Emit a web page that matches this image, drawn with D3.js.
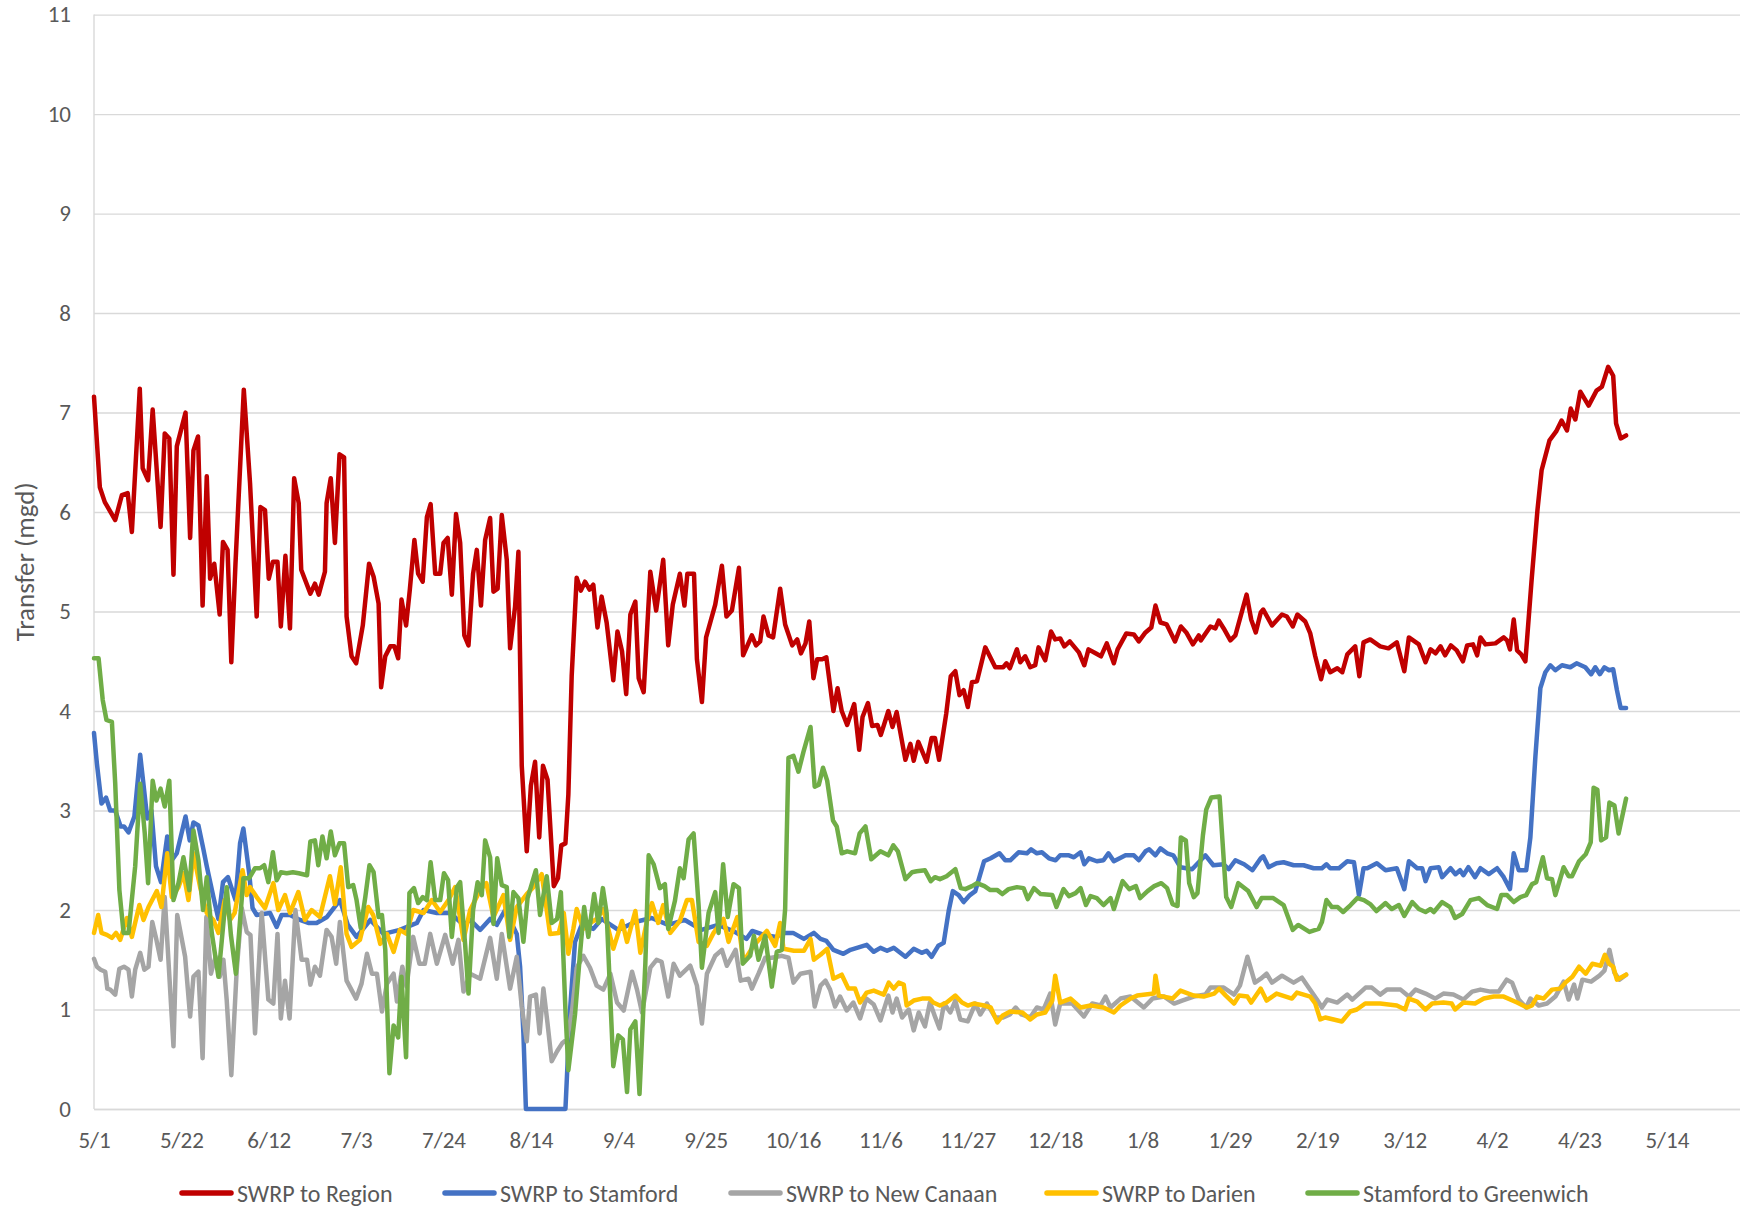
<!DOCTYPE html>
<html>
<head>
<meta charset="utf-8">
<script src="https://cdn.jsdelivr.net/npm/d3@7"></script>
<style>
  html, body { margin: 0; padding: 0; background: #ffffff; }
  svg { display: block; }
  text { font-family: Calibri, Carlito, Lato, "Open Sans", sans-serif; }
</style>
</head>
<body>
<svg id="chart" width="1740" height="1209"></svg>
<script>
// ---------------- DATA ----------------
// Each series: [days after 2018-05-01, transfer in mgd]
const seriesNames = ["SWRP to Region", "SWRP to Stamford", "SWRP to New Canaan", "SWRP to Darien", "Stamford to Greenwich"];

const xTickDates = ["2018-05-01","2018-05-22","2018-06-12","2018-07-03","2018-07-24","2018-08-14","2018-09-04","2018-09-25","2018-10-16","2018-11-06","2018-11-27","2018-12-18","2019-01-08","2019-01-29","2019-02-19","2019-03-12","2019-04-02","2019-04-23","2019-05-14"];
const yTickValues = [0,1,2,3,4,5,6,7,8,9,10,11];

const swrpToRegion = [[0,7.16],[1.4,6.25],[2.6,6.10],[5.1,5.92],[6.7,6.17],[8.1,6.19],[9.1,5.80],[11.0,7.24],[11.7,6.44],[13.0,6.32],[14.1,7.03],[16.0,5.85],[17.0,6.79],[18.1,6.74],[19.1,5.37],[19.9,6.66],[22.0,7.00],[23.1,5.74],[23.9,6.62],[25.0,6.76],[26.1,5.06],[27.1,6.36],[27.9,5.33],[28.9,5.48],[30.2,4.97],[31.0,5.70],[32.1,5.62],[33.0,4.49],[34.0,5.48],[36.0,7.23],[37.5,6.29],[39.1,4.95],[40.0,6.05],[41.1,6.02],[42.0,5.33],[43.0,5.50],[44.1,5.50],[44.9,4.85],[46.0,5.56],[47.1,4.83],[48.1,6.34],[49.2,6.09],[49.8,5.42],[52.0,5.18],[53.1,5.28],[54.0,5.17],[55.5,5.40],[55.9,6.09],[56.9,6.34],[57.9,5.69],[59.0,6.58],[60.1,6.55],[60.7,4.95],[61.9,4.55],[63.0,4.48],[64.6,4.86],[66.1,5.48],[67.2,5.35],[68.4,5.08],[69.0,4.24],[70.0,4.55],[71.2,4.65],[72.2,4.65],[73.1,4.53],[73.9,5.12],[75.0,4.86],[75.9,5.22],[77.0,5.72],[77.9,5.38],[79.0,5.30],[80.0,5.95],[80.9,6.08],[82.0,5.38],[83.2,5.38],[84.0,5.69],[85.0,5.74],[86.0,5.17],[87.0,5.98],[88.0,5.69],[89.0,4.76],[90.0,4.66],[91.1,5.38],[92.0,5.62],[93.0,5.06],[94.0,5.72],[95.2,5.94],[96.0,5.20],[97.0,5.23],[98.0,5.97],[99.2,5.52],[100.0,4.63],[101.2,5.05],[102.0,5.60],[102.8,3.45],[104.0,2.59],[105.0,3.25],[106.0,3.49],[107.0,2.73],[107.9,3.45],[109.0,3.31],[110.5,2.24],[111.5,2.32],[112.3,2.65],[113.3,2.67],[114.0,3.16],[114.8,4.35],[116.0,5.34],[117.0,5.21],[118.0,5.30],[119.1,5.22],[120.0,5.27],[121.0,4.84],[122.0,5.15],[123.2,4.89],[124.8,4.31],[125.8,4.80],[126.9,4.60],[127.9,4.17],[128.9,4.97],[130.1,5.10],[130.9,4.33],[132.1,4.19],[133.7,5.40],[135.1,5.01],[136.8,5.52],[138.0,4.66],[139.1,5.07],[140.8,5.38],[141.9,5.06],[142.6,5.38],[144.2,5.38],[144.9,4.52],[146.1,4.09],[147.1,4.74],[149.3,5.07],[150.9,5.46],[152.0,4.95],[153.3,5.01],[155.0,5.44],[156.0,4.56],[158.1,4.76],[159.1,4.66],[160.1,4.70],[160.9,4.95],[162.1,4.76],[163.2,4.74],[164.9,5.23],[166.1,4.87],[167.8,4.66],[169.0,4.72],[169.9,4.58],[171.0,4.68],[171.9,4.90],[172.9,4.33],[173.8,4.52],[175.0,4.52],[176.0,4.54],[177.7,4.00],[178.7,4.23],[179.7,4.00],[181.0,3.86],[182.7,4.07],[183.9,3.61],[184.7,3.94],[186.0,4.08],[187.0,3.85],[188.3,3.86],[189.1,3.76],[190.9,4.00],[191.9,3.84],[192.9,3.99],[195.0,3.51],[196.2,3.67],[197.0,3.50],[198.1,3.69],[200.1,3.49],[201.3,3.73],[202.1,3.73],[203.1,3.51],[204.8,3.97],[205.9,4.35],[207.0,4.40],[208.0,4.16],[209.0,4.21],[210.0,4.04],[211.0,4.29],[212.2,4.30],[214.2,4.64],[216.6,4.44],[218.5,4.44],[219.3,4.48],[220.1,4.43],[221.8,4.62],[222.6,4.49],[223.8,4.55],[225.0,4.44],[226.2,4.46],[227.0,4.64],[228.6,4.51],[230.0,4.80],[231.0,4.72],[232.2,4.73],[233.2,4.65],[234.5,4.70],[236.7,4.59],[238.0,4.46],[239.0,4.62],[240.7,4.58],[242.0,4.55],[243.4,4.68],[245.1,4.48],[246.0,4.62],[248.1,4.78],[249.9,4.77],[251.1,4.70],[252.7,4.79],[254.1,4.84],[255.1,5.06],[256.3,4.89],[257.8,4.87],[259.8,4.70],[261.2,4.85],[262.5,4.79],[264.1,4.67],[265.5,4.76],[266.0,4.71],[268.3,4.85],[269.5,4.83],[270.3,4.91],[271.5,4.83],[273.1,4.71],[274.3,4.76],[277.0,5.17],[278.1,4.92],[279.2,4.79],[280.4,4.99],[281.0,5.02],[283.1,4.86],[285.5,4.97],[286.7,4.95],[288.1,4.85],[289.2,4.97],[291.1,4.90],[292.3,4.78],[293.5,4.55],[294.9,4.32],[295.9,4.50],[297.1,4.39],[298.8,4.43],[300.0,4.39],[301.2,4.57],[303.1,4.65],[304.1,4.35],[305.1,4.69],[306.7,4.72],[309.1,4.65],[311.1,4.63],[313.1,4.69],[314.9,4.40],[316.0,4.74],[318.4,4.67],[320.0,4.49],[321.2,4.62],[322.4,4.58],[323.6,4.65],[324.7,4.56],[326.1,4.66],[327.5,4.61],[329.0,4.50],[330.0,4.66],[331.4,4.67],[332.4,4.56],[333.2,4.74],[334.4,4.67],[336.8,4.68],[338.8,4.74],[339.6,4.71],[340.3,4.62],[341.2,4.92],[342.0,4.61],[343.0,4.57],[344.0,4.50],[345.5,5.32],[346.9,6.02],[347.9,6.42],[349.8,6.72],[351.4,6.81],[352.7,6.92],[354.0,6.82],[354.9,7.04],[356.0,6.93],[357.2,7.21],[359.2,7.07],[361.1,7.22],[362.4,7.26],[363.9,7.46],[365.1,7.37],[365.8,6.89],[366.9,6.74],[368.2,6.77]];

const swrpToStamford = [[0,3.78],[0.7,3.47],[1.8,3.07],[2.9,3.13],[3.9,3.00],[5.1,3.00],[6.4,2.84],[7.2,2.84],[8.3,2.78],[9.7,2.94],[11.1,3.56],[12.8,2.92],[13.8,3.00],[14.9,2.44],[16.1,2.28],[17.6,2.74],[18.7,2.50],[19.9,2.57],[22.0,2.94],[23.0,2.70],[23.9,2.88],[25.1,2.85],[26.2,2.63],[27.1,2.44],[28.7,2.13],[29.9,1.91],[31.0,2.28],[32.2,2.33],[34.0,2.10],[35.1,2.67],[35.9,2.82],[37.3,2.37],[38.1,2.02],[39.1,1.95],[42.3,1.97],[43.9,1.83],[45.1,1.95],[47.1,1.95],[49.5,1.90],[51.5,1.87],[53.5,1.87],[56.0,1.93],[59.1,2.10],[61.0,1.85],[63.1,1.73],[66.4,1.90],[69.6,1.76],[73.5,1.80],[77.6,1.87],[79.2,2.00],[82.4,1.97],[85.6,1.97],[88.8,1.85],[90.4,1.90],[92.8,1.80],[95.2,1.91],[96.8,1.85],[98.8,2.00],[101.6,1.76],[102.4,1.43],[103.2,0.76],[103.8,0],[113.3,0],[114.4,0.99],[115.6,1.68],[117.2,1.85],[120.0,1.81],[122.0,1.91],[126.0,1.80],[130.0,1.88],[134.0,1.92],[138.0,1.85],[142.0,1.90],[146.0,1.80],[150.0,1.85],[154.0,1.78],[156.8,1.71],[158.2,1.79],[161.0,1.75],[164.0,1.73],[165.7,1.77],[168.0,1.77],[170.6,1.71],[173.0,1.77],[174.6,1.71],[176.0,1.69],[177.7,1.60],[180.1,1.56],[181.8,1.60],[185.7,1.65],[187.4,1.58],[189.0,1.62],[190.6,1.59],[192.2,1.62],[195.0,1.53],[197.0,1.61],[198.9,1.57],[200.1,1.59],[201.3,1.53],[202.9,1.64],[204.2,1.67],[205.4,1.99],[206.4,2.19],[207.8,2.15],[209.0,2.08],[210.5,2.15],[211.8,2.19],[213.9,2.49],[215.5,2.52],[217.6,2.57],[219.0,2.50],[220.2,2.50],[222.2,2.58],[224.2,2.57],[225.2,2.61],[226.6,2.57],[227.8,2.58],[229.5,2.52],[231.1,2.50],[232.2,2.55],[234.3,2.55],[235.5,2.53],[237.1,2.58],[238.0,2.46],[239.1,2.52],[241.0,2.49],[242.6,2.50],[243.8,2.57],[245.1,2.49],[247.9,2.55],[249.9,2.55],[251.1,2.50],[252.7,2.59],[253.6,2.61],[255.1,2.55],[256.3,2.62],[257.9,2.57],[259.4,2.55],[261.1,2.43],[263.9,2.41],[265.5,2.48],[267.1,2.55],[269.0,2.45],[271.5,2.46],[272.7,2.41],[274.3,2.50],[276.4,2.46],[278.4,2.40],[280.4,2.52],[281.0,2.54],[282.3,2.43],[284.2,2.47],[285.9,2.48],[288.3,2.45],[290.7,2.45],[293.1,2.42],[295.1,2.42],[296.2,2.46],[297.1,2.42],[299.2,2.42],[301.2,2.49],[302.8,2.48],[304.0,2.15],[305.1,2.42],[306.0,2.42],[308.3,2.47],[310.4,2.40],[313.1,2.42],[314.9,2.21],[316.0,2.49],[318.0,2.42],[319.2,2.42],[320.0,2.29],[321.2,2.42],[323.2,2.43],[324.0,2.33],[326.0,2.42],[327.2,2.36],[328.3,2.40],[329.1,2.35],[330.3,2.43],[331.9,2.33],[333.2,2.42],[335.2,2.36],[337.2,2.42],[338.8,2.33],[340.3,2.21],[341.2,2.57],[342.4,2.40],[344.2,2.40],[345.2,2.73],[346.4,3.54],[347.6,4.23],[348.8,4.39],[350.0,4.46],[351.2,4.41],[352.8,4.46],[354.8,4.44],[356.3,4.48],[358.4,4.44],[359.8,4.37],[360.8,4.44],[361.9,4.37],[363.0,4.44],[364.1,4.41],[365.1,4.42],[366.0,4.21],[366.9,4.03],[368.2,4.03]];

const swrpToNewCanaan = [[0,1.51],[0.7,1.43],[1.6,1.40],[2.7,1.38],[3.2,1.21],[3.9,1.20],[5.1,1.15],[6.1,1.41],[7.2,1.43],[8.3,1.40],[9.1,1.13],[9.9,1.40],[11.1,1.57],[12.1,1.40],[13.1,1.43],[14.0,1.88],[15.0,1.70],[16.0,1.50],[17.0,2.13],[19.1,0.63],[20.0,1.95],[21.9,1.53],[23.1,0.93],[23.9,1.33],[25.1,1.38],[26.1,0.51],[27.0,1.93],[28.1,1.36],[29.2,1.53],[30.2,1.33],[31.1,1.50],[31.9,1.09],[33.0,0.34],[34.3,1.40],[35.5,2.02],[36.7,1.78],[37.6,1.75],[38.7,0.76],[40.3,1.97],[41.9,1.10],[43.1,1.06],[44.1,1.76],[44.9,0.91],[45.9,1.29],[47.0,0.91],[48.4,2.00],[49.9,1.50],[51.2,1.50],[52.0,1.25],[53.1,1.43],[54.3,1.34],[55.9,1.80],[57.1,1.73],[58.2,1.46],[59.1,1.88],[60.7,1.29],[63.0,1.11],[64.3,1.26],[65.6,1.56],[66.8,1.36],[68.0,1.36],[69.2,0.98],[70.4,1.26],[72.0,1.36],[72.8,1.08],[74.1,1.43],[75.1,1.23],[76.7,1.73],[78.2,1.46],[79.5,1.46],[80.8,1.76],[82.4,1.46],[84.4,1.75],[86.2,1.46],[87.6,1.70],[88.8,1.18],[90.4,1.36],[92.8,1.31],[95.2,1.72],[96.8,1.31],[98.0,1.76],[100.0,1.21],[101.6,1.53],[102.8,1.03],[104.0,0.68],[104.8,1.13],[106.2,1.15],[107.1,0.76],[108.0,1.21],[109.0,0.86],[110.0,0.48],[111.3,0.58],[112.5,0.66],[113.7,0.70],[114.9,0.99],[116.0,1.42],[117.6,1.54],[119.2,1.42],[120.8,1.24],[122.4,1.20],[124.1,1.36],[125.7,1.07],[127.3,0.99],[129.3,1.38],[130.5,1.20],[131.7,0.97],[133.7,1.42],[135.2,1.50],[136.4,1.48],[138.0,1.13],[139.3,1.46],[140.8,1.34],[143.3,1.44],[144.9,1.24],[146.1,0.86],[147.3,1.36],[149.3,1.54],[150.9,1.60],[152.1,1.44],[154.2,1.60],[155.4,1.29],[157.3,1.31],[158.1,1.21],[159.7,1.36],[161.3,1.52],[162.9,1.52],[165.3,1.54],[166.9,1.52],[168.1,1.27],[169.8,1.36],[172.2,1.38],[173.2,1.03],[174.6,1.24],[175.8,1.29],[176.9,1.20],[178.1,1.03],[179.3,1.13],[180.9,0.99],[182.5,1.07],[184.1,0.91],[185.6,1.11],[187.4,1.05],[189.0,0.89],[190.9,1.14],[191.9,0.97],[192.9,1.11],[194.2,0.92],[195.8,1.00],[197.0,0.79],[198.2,0.97],[199.7,0.83],[200.9,1.07],[202.1,0.93],[203.2,0.81],[204.3,1.06],[205.8,0.97],[207.0,1.09],[208.2,0.90],[210.0,0.88],[211.8,1.06],[213.0,0.95],[214.6,1.06],[216.6,0.92],[218.5,0.92],[220.1,0.95],[221.5,1.02],[222.9,0.95],[225.0,0.92],[226.6,1.02],[228.2,1.00],[229.8,1.16],[231.0,0.85],[232.2,1.06],[235.1,1.06],[237.9,0.93],[239.9,1.06],[241.9,1.04],[243.1,1.13],[244.3,1.02],[246.7,1.11],[249.1,1.13],[252.3,1.02],[254.4,1.11],[257.2,1.13],[259.6,1.06],[261.5,1.09],[264.3,1.13],[267.1,1.15],[268.3,1.22],[271.5,1.22],[274.0,1.15],[275.4,1.24],[277.2,1.53],[279.0,1.27],[280.4,1.31],[281.8,1.36],[283.1,1.27],[285.5,1.34],[288.3,1.27],[290.3,1.32],[291.9,1.22],[293.9,1.10],[295.1,1.02],[296.4,1.10],[298.8,1.07],[301.2,1.15],[302.4,1.10],[305.6,1.22],[307.1,1.22],[309.1,1.15],[310.7,1.20],[314.0,1.20],[316.0,1.13],[317.6,1.20],[320.0,1.16],[322.3,1.11],[324.3,1.16],[326.7,1.15],[329.1,1.10],[331.2,1.18],[333.2,1.20],[335.6,1.18],[337.6,1.18],[339.5,1.30],[340.8,1.27],[342.4,1.10],[344.2,1.02],[345.2,1.11],[347.2,1.04],[349.2,1.06],[351.2,1.13],[353.2,1.28],[354.4,1.10],[355.7,1.25],[356.5,1.11],[357.7,1.30],[359.8,1.28],[361.8,1.34],[363.0,1.39],[364.2,1.60],[365.4,1.37],[366.6,1.30],[368.2,1.35]];

const swrpToDarien = [[0,1.77],[1.0,1.95],[1.8,1.77],[3.1,1.75],[4.3,1.72],[5.3,1.77],[6.3,1.70],[7.9,1.92],[9.1,1.73],[10.9,2.05],[11.9,1.90],[13.1,2.03],[15.1,2.19],[16.2,2.03],[17.6,2.57],[18.7,2.13],[20.3,2.23],[21.5,2.37],[22.7,2.10],[23.9,2.57],[25.5,2.23],[27.1,1.97],[28.7,1.90],[29.9,1.77],[31.4,2.10],[32.7,1.90],[33.8,1.97],[35.7,2.40],[36.7,2.15],[37.5,2.23],[39.1,2.13],[41.1,2.02],[43.1,2.27],[44.3,2.00],[45.9,2.15],[47.1,1.97],[49.1,2.18],[50.7,1.90],[52.3,2.00],[54.3,1.93],[56.7,2.34],[57.9,2.06],[59.3,2.43],[60.7,1.76],[61.9,1.63],[63.9,1.70],[65.9,2.03],[67.1,1.95],[68.8,1.66],[70.4,1.76],[72.0,1.58],[73.5,1.80],[75.1,1.76],[76.7,2.00],[79.2,1.97],[81.2,2.10],[83.2,1.98],[85.2,2.10],[86.8,2.23],[88.8,1.70],[90.4,2.00],[92.8,2.20],[94.3,2.27],[96.0,1.93],[98.4,2.15],[100.0,1.70],[101.6,2.03],[104.0,2.16],[105.6,2.23],[107.6,2.36],[109.6,1.76],[111.7,1.77],[112.9,1.97],[114.0,1.56],[115.2,1.81],[116.0,2.01],[117.6,1.81],[119.2,1.87],[120.8,1.91],[122.4,2.01],[124.8,1.61],[126.9,1.89],[128.1,1.68],[130.1,1.99],[131.3,1.57],[132.9,1.89],[134.1,2.07],[135.6,1.87],[136.8,2.05],[138.5,1.77],[140.8,1.89],[142.5,2.10],[143.7,2.10],[145.3,1.68],[147.3,1.64],[148.9,1.77],[151.3,1.91],[152.5,1.68],[154.6,1.93],[156.1,1.48],[158.5,1.64],[161.7,1.79],[163.7,1.64],[164.9,1.87],[165.7,1.61],[168.2,1.59],[170.6,1.59],[172.2,1.71],[173.0,1.50],[174.6,1.55],[176.2,1.61],[177.7,1.31],[179.7,1.35],[181.3,1.21],[182.9,1.21],[184.1,1.07],[185.7,1.17],[187.4,1.19],[189.8,1.15],[191.0,1.27],[192.2,1.21],[193.4,1.27],[194.6,1.25],[195.3,1.04],[197.0,1.09],[199.0,1.11],[200.8,1.11],[201.7,1.07],[203.3,1.04],[204.9,1.07],[207.0,1.14],[208.6,1.07],[210.0,1.04],[211.4,1.06],[213.9,1.04],[215.5,1.02],[217.1,0.87],[218.4,0.94],[220.2,0.98],[223.1,0.97],[225.0,0.90],[226.6,0.95],[228.6,0.97],[230.3,1.09],[231.0,1.34],[232.2,1.07],[234.7,1.11],[237.1,1.02],[239.5,1.04],[242.6,1.02],[245.1,0.97],[246.7,1.04],[249.1,1.11],[250.7,1.14],[254.7,1.16],[255.1,1.34],[255.9,1.14],[259.2,1.11],[261.1,1.19],[264.3,1.14],[266.7,1.13],[269.2,1.16],[270.4,1.21],[272.0,1.14],[274.0,1.06],[275.2,1.14],[277.2,1.13],[278.1,1.07],[280.4,1.21],[281.8,1.09],[284.2,1.16],[287.9,1.11],[289.1,1.17],[292.3,1.13],[293.5,1.06],[294.7,0.90],[295.9,0.92],[297.9,0.90],[299.9,0.88],[301.9,0.98],[303.5,1.00],[305.5,1.06],[309.1,1.06],[313.1,1.04],[315.1,1.00],[316.0,1.11],[318.0,1.08],[320.0,1.00],[321.6,1.06],[324.3,1.07],[326.3,1.06],[327.1,1.00],[329.1,1.07],[331.9,1.06],[334.0,1.11],[336.4,1.13],[338.8,1.13],[342.0,1.07],[344.4,1.02],[345.6,1.04],[346.8,1.13],[348.4,1.11],[350.4,1.20],[352.4,1.21],[353.6,1.27],[355.3,1.33],[356.9,1.43],[358.5,1.36],[360.1,1.46],[362.1,1.44],[363.1,1.55],[364.1,1.46],[365.1,1.43],[366.0,1.30],[368.2,1.35]];

const stamfordToGreenwich = [[0,4.53],[1.1,4.53],[2.1,4.11],[3.0,3.91],[4.3,3.89],[5.1,3.27],[6.1,2.20],[7.1,1.77],[8.3,1.77],[9.9,2.44],[11.1,3.27],[12.2,2.77],[13.0,2.27],[14.1,3.30],[15.0,3.10],[16.0,3.22],[17.0,3.04],[18.1,3.30],[19.1,2.10],[20.3,2.27],[21.5,2.53],[22.9,2.20],[23.9,2.80],[25.1,2.50],[26.2,2.00],[27.1,2.33],[28.3,1.77],[29.9,1.33],[31.9,2.23],[32.9,1.75],[34.1,1.36],[35.9,2.32],[37.3,2.32],[38.7,2.42],[39.9,2.42],[40.9,2.45],[41.9,2.28],[43.0,2.58],[43.9,2.30],[44.9,2.38],[46.3,2.37],[47.8,2.38],[49.2,2.37],[51.2,2.35],[52.0,2.69],[53.1,2.70],[53.9,2.45],[54.9,2.74],[55.9,2.52],[56.9,2.79],[57.9,2.55],[59.0,2.67],[60.1,2.67],[61.1,2.23],[62.3,2.25],[63.1,2.10],[64.1,1.82],[65.2,2.13],[66.2,2.45],[67.2,2.38],[68.4,1.93],[69.2,1.95],[70.0,1.60],[71.0,0.36],[72.0,0.84],[73.1,0.72],[73.9,1.33],[75.0,0.52],[75.8,2.17],[76.9,2.22],[77.9,2.07],[79.0,2.13],[80.0,2.10],[80.9,2.48],[82.0,2.10],[83.2,2.10],[84.1,2.37],[85.1,2.30],[86.0,1.73],[87.2,2.23],[88.0,2.28],[89.2,1.65],[90.0,1.16],[91.1,2.00],[92.2,2.28],[93.2,2.15],[94.0,2.70],[95.2,2.53],[96.0,1.86],[96.9,2.52],[98.0,2.25],[99.2,2.23],[99.8,1.73],[100.8,2.18],[102.0,2.12],[103.2,1.68],[104.2,2.12],[106.2,2.40],[107.2,1.95],[108.8,2.34],[110.0,1.87],[111.3,1.91],[112.2,2.18],[113.3,0.99],[114.0,0.39],[115.6,0.95],[116.8,1.56],[117.8,2.03],[118.8,1.73],[120.2,2.16],[121.2,1.87],[122.3,2.22],[123.2,1.97],[124.8,0.43],[126.0,0.74],[127.1,0.70],[128.1,0.17],[128.9,0.80],[130.1,0.88],[131.1,0.15],[132.5,1.46],[133.3,2.55],[134.5,2.46],[136.0,2.22],[137.2,2.26],[138.0,1.81],[139.6,2.09],[140.8,2.42],[141.7,2.32],[142.9,2.71],[144.1,2.77],[145.3,2.05],[146.1,1.42],[147.7,1.97],[149.3,2.18],[150.1,1.77],[151.2,2.46],[152.3,1.93],[153.7,2.26],[155.0,2.22],[155.9,1.46],[157.7,1.54],[158.6,1.74],[159.7,1.50],[161.3,1.74],[162.9,1.23],[164.1,1.58],[165.3,1.60],[166.1,2.01],[166.9,3.53],[168.1,3.55],[169.3,3.39],[170.5,3.59],[172.2,3.84],[173.2,3.24],[174.2,3.26],[175.2,3.43],[176.2,3.30],[177.6,2.90],[178.5,2.84],[179.7,2.57],[181.0,2.59],[182.9,2.57],[184.0,2.77],[185.4,2.84],[186.8,2.51],[189.0,2.59],[190.9,2.55],[192.1,2.65],[193.2,2.59],[195.0,2.31],[196.6,2.38],[197.7,2.39],[199.7,2.40],[201.1,2.29],[202.1,2.33],[203.3,2.31],[204.9,2.34],[207.0,2.41],[208.3,2.22],[209.4,2.21],[211.0,2.24],[212.2,2.27],[214.0,2.24],[215.4,2.20],[217.1,2.20],[218.3,2.16],[219.8,2.21],[221.8,2.23],[223.4,2.22],[224.4,2.11],[225.9,2.22],[227.5,2.16],[230.3,2.15],[231.3,2.03],[233.0,2.21],[234.3,2.14],[235.9,2.17],[237.1,2.22],[238.4,2.05],[239.5,2.14],[241.0,2.12],[242.6,2.05],[244.3,2.12],[245.1,2.01],[247.2,2.29],[248.8,2.21],[250.4,2.24],[251.4,2.12],[253.2,2.19],[254.8,2.24],[256.5,2.27],[257.9,2.22],[259.2,2.06],[260.4,2.04],[261.2,2.73],[262.4,2.70],[263.2,2.27],[264.3,2.13],[265.2,2.17],[266.5,2.75],[267.3,3.01],[268.5,3.13],[270.5,3.14],[272.1,2.13],[273.3,2.03],[275.0,2.27],[277.4,2.19],[279.4,2.03],[280.6,2.12],[283.4,2.12],[285.9,2.05],[288.1,1.80],[289.4,1.85],[292.1,1.78],[294.3,1.81],[295.1,1.88],[296.2,2.10],[297.5,2.03],[298.9,2.03],[300.2,1.98],[302.0,2.05],[303.6,2.12],[305.2,2.10],[306.7,2.06],[308.2,1.99],[310.4,2.07],[311.9,2.01],[313.6,2.05],[314.9,1.94],[316.8,2.08],[318.4,2.01],[320.0,1.98],[321.2,2.01],[322.0,1.98],[324.0,2.08],[325.9,2.03],[327.1,1.92],[328.8,1.96],[330.8,2.10],[332.8,2.12],[334.8,2.05],[337.2,2.01],[338.2,2.15],[339.6,2.15],[341.2,2.08],[342.8,2.13],[344.2,2.15],[345.6,2.26],[346.6,2.28],[348.2,2.53],[349.2,2.32],[350.4,2.31],[351.2,2.15],[353.2,2.43],[354.4,2.34],[355.2,2.34],[356.9,2.49],[358.5,2.56],[359.7,2.68],[360.4,3.23],[361.3,3.21],[362.2,2.70],[363.4,2.73],[364.2,3.08],[365.4,3.05],[366.4,2.77],[368.2,3.12]];

// ---------------- STYLES / LAYOUT ----------------
const seriesColors = ["#C00000", "#4472C4", "#A5A5A5", "#FFC000", "#70AD47"];
const allSeries = [swrpToRegion, swrpToStamford, swrpToNewCanaan, swrpToDarien, stamfordToGreenwich];

const W = 1740, H = 1209;
const left = 94, pxPerDay = 4.161;
const baseDate = new Date(2018, 4, 1);
const dayMs = 86400000;
const toDate = d => new Date(baseDate.getTime() + d * dayMs);
const endDays = 396;

const svg = d3.select("#chart");
svg.append("rect").attr("width", W).attr("height", H).attr("fill", "#ffffff");

const x = d3.scaleTime().domain([baseDate, toDate(endDays)]).range([left, left + endDays * pxPerDay]);
const y = d3.scaleLinear().domain([0, 11]).range([1109, 14.6]);

const gridColor = "#d9d9d9";
const textColor = "#595959";
const tickFont = 23;
const legendFont = 24;
const fontStack = "Calibri, Carlito, Lato, sans-serif";

// y axis + gridlines
const yAxis = svg.append("g")
  .attr("transform", `translate(${left},0)`)
  .call(d3.axisLeft(y).tickValues(yTickValues).tickFormat(d3.format("d"))
        .tickSize(-(W - left)).tickPadding(23));
yAxis.select(".domain").remove();
yAxis.selectAll(".tick line").attr("stroke", gridColor).attr("stroke-width", 1.4);
yAxis.selectAll(".tick text").attr("fill", textColor).attr("font-size", tickFont)
  .style("font-family", fontStack);

// left vertical axis line
svg.append("line").attr("x1", left).attr("x2", left).attr("y1", y(11)).attr("y2", y(0))
  .attr("stroke", gridColor).attr("stroke-width", 1.4);

// x axis
const xAxis = svg.append("g")
  .attr("transform", `translate(0,${y(0)})`)
  .call(d3.axisBottom(x).tickValues(xTickDates.map(s => d3.timeParse("%Y-%m-%d")(s)))
        .tickFormat(d3.timeFormat("%-m/%-d")).tickSize(0).tickPadding(23));
xAxis.select(".domain").attr("stroke", gridColor).attr("stroke-width", 1.4);
xAxis.selectAll(".tick text").attr("fill", textColor).attr("font-size", tickFont)
  .style("font-family", fontStack);

// y axis title
svg.append("text")
  .attr("transform", `translate(24,${(y(0) + y(11)) / 2}) rotate(-90)`)
  .attr("text-anchor", "middle").attr("dominant-baseline", "central")
  .attr("fill", textColor).attr("font-size", 27)
  .text("Transfer (mgd)");

// lines
const line = d3.line().x(p => x(toDate(p[0]))).y(p => y(p[1]));
const plot = svg.append("g");
allSeries.forEach((s, i) => {
  plot.append("path").datum(s)
    .attr("d", line)
    .attr("fill", "none")
    .attr("stroke", seriesColors[i])
    .attr("stroke-width", 4.5)
    .attr("stroke-linejoin", "round")
    .attr("stroke-linecap", "round");
});

// legend
const legendX = [179, 442, 728, 1044, 1305];
const legendY = 1193;
const lg = svg.append("g");
seriesNames.forEach((name, i) => {
  lg.append("line").attr("x1", legendX[i] + 3).attr("x2", legendX[i] + 52)
    .attr("y1", legendY).attr("y2", legendY)
    .attr("stroke", seriesColors[i]).attr("stroke-width", 5.5).attr("stroke-linecap", "round");
  lg.append("text").attr("x", legendX[i] + 58).attr("y", legendY)
    .attr("dominant-baseline", "central")
    .attr("fill", textColor).attr("font-size", legendFont)
    .text(name);
});
</script>
</body>
</html>
